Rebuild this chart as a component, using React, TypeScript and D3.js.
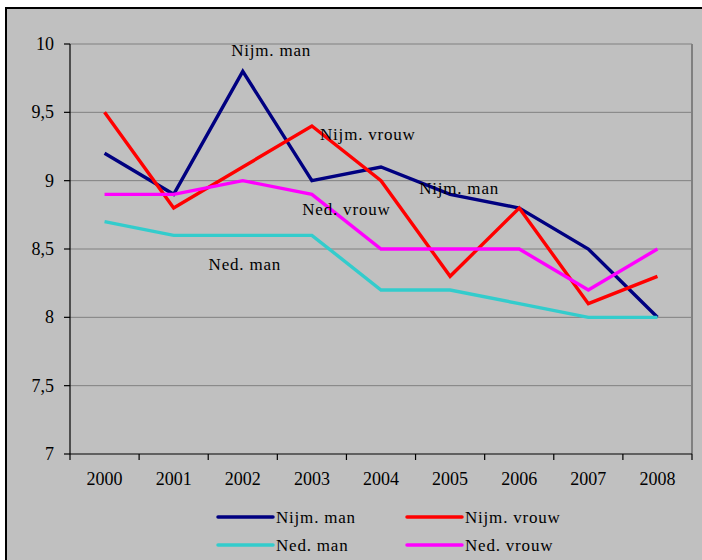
import React from "react";
import * as d3 from "d3";

const years = ["2000", "2001", "2002", "2003", "2004", "2005", "2006", "2007", "2008"];
const nijmMan = [9.2, 8.9, 9.8, 9.0, 9.1, 8.9, 8.8, 8.5, 8.0];
const nijmVrouw = [9.5, 8.8, 9.1, 9.4, 9.0, 8.3, 8.8, 8.1, 8.3];
const nedMan = [8.7, 8.6, 8.6, 8.6, 8.2, 8.2, 8.1, 8.0, 8.0];
const nedVrouw = [8.9, 8.9, 9.0, 8.9, 8.5, 8.5, 8.5, 8.2, 8.5];
const yTicks = [7, 7.5, 8, 8.5, 9, 9.5, 10];
const yTickLabels = ["7", "7,5", "8", "8,5", "9", "9,5", "10"];

const series = [
  { name: "Nijm. man", values: nijmMan, color: "#000080" },
  { name: "Nijm. vrouw", values: nijmVrouw, color: "#FF0000" },
  { name: "Ned. man", values: nedMan, color: "#33CCCC" },
  { name: "Ned. vrouw", values: nedVrouw, color: "#FF00FF" },
];

const annotations = [
  { text: "Nijm. man", x: 2.41, y: 9.91 },
  { text: "Nijm. vrouw", x: 3.81, y: 9.3 },
  { text: "Nijm. man", x: 5.13, y: 8.9 },
  { text: "Ned. vrouw", x: 3.5, y: 8.75 },
  { text: "Ned. man", x: 2.03, y: 8.35 },
];

export default function App() {
  const left = 70, right = 692, top = 44, bottom = 454;
  const x = d3.scaleBand<string>().domain(years).range([left, right]).padding(0);
  const y = d3.scaleLinear().domain([7, 10]).range([bottom, top]);
  const cx = (i: number) => (x(years[i]) as number) + x.bandwidth() / 2;
  const xc = d3.scaleLinear().domain([0, years.length - 1]).range([cx(0), cx(years.length - 1)]);
  const line = d3
    .line<number>()
    .x((_, i) => cx(i))
    .y((d) => y(d));

  const boundaries = d3.range(years.length + 1).map((i) =>
    i < years.length ? (x(years[i]) as number) : right
  );

  const legend = [
    { s: series[0], lx: 218, ly: 517 },
    { s: series[1], lx: 407, ly: 517 },
    { s: series[2], lx: 218, ly: 545 },
    { s: series[3], lx: 407, ly: 545 },
  ];

  return (
    <svg
      width={702}
      height={560}
      fontFamily="Liberation Serif"
      style={{ position: "absolute", left: 0, top: 0, display: "block" }}
    >
      <style>{`text { font-family: "Liberation Serif", "Times New Roman", Times; }`}</style>
      <rect x={0} y={0} width={702} height={560} fill="#fff" />
      <rect x={6} y={8} width={710} height={570} fill="#C0C0C0" stroke="#000" strokeWidth={2} />
      {yTicks.slice(1).map((t) => (
        <line key={t} x1={left} x2={right} y1={y(t)} y2={y(t)} stroke="#808080" strokeWidth={1} />
      ))}
      <line x1={right} x2={right} y1={top} y2={bottom} stroke="#808080" strokeWidth={2} />
      <line x1={left} x2={left} y1={top} y2={bottom} stroke="#000" strokeWidth={1.2} />
      <line x1={left} x2={right} y1={bottom} y2={bottom} stroke="#000" strokeWidth={1.2} />
      {yTicks.map((t, i) => (
        <g key={t}>
          <line x1={left - 6} x2={left} y1={y(t)} y2={y(t)} stroke="#000" strokeWidth={1.2} />
          <text x={54} y={y(t) + 6} textAnchor="end" fontSize={18} fill="#000">
            {yTickLabels[i]}
          </text>
        </g>
      ))}
      {boundaries.map((b, i) => (
        <line key={i} x1={b} x2={b} y1={bottom} y2={bottom + 6} stroke="#000" strokeWidth={1.2} />
      ))}
      {years.map((yr, i) => (
        <text key={yr} x={cx(i)} y={485} textAnchor="middle" fontSize={18} fill="#000">
          {yr}
        </text>
      ))}
      {series.map((s) => (
        <path
          key={s.name}
          d={line(s.values) || ""}
          fill="none"
          stroke={s.color}
          strokeWidth={3.4}
          strokeLinejoin="miter"
        />
      ))}
      {annotations.map((a, i) => (
        <text
          key={i}
          x={xc(a.x)}
          y={y(a.y)}
          textAnchor="middle"
          fontSize={17}
          letterSpacing={0.8}
          fill="#000"
        >
          {a.text}
        </text>
      ))}
      {legend.map((l) => (
        <g key={l.s.name}>
          <line x1={l.lx} x2={l.lx + 55} y1={l.ly} y2={l.ly} stroke={l.s.color} strokeWidth={3.5} strokeLinecap="round" />
          <text x={l.lx + 58} y={l.ly + 6} fontSize={17} letterSpacing={0.8} fill="#000">
            {l.s.name}
          </text>
        </g>
      ))}
    </svg>
  );
}
